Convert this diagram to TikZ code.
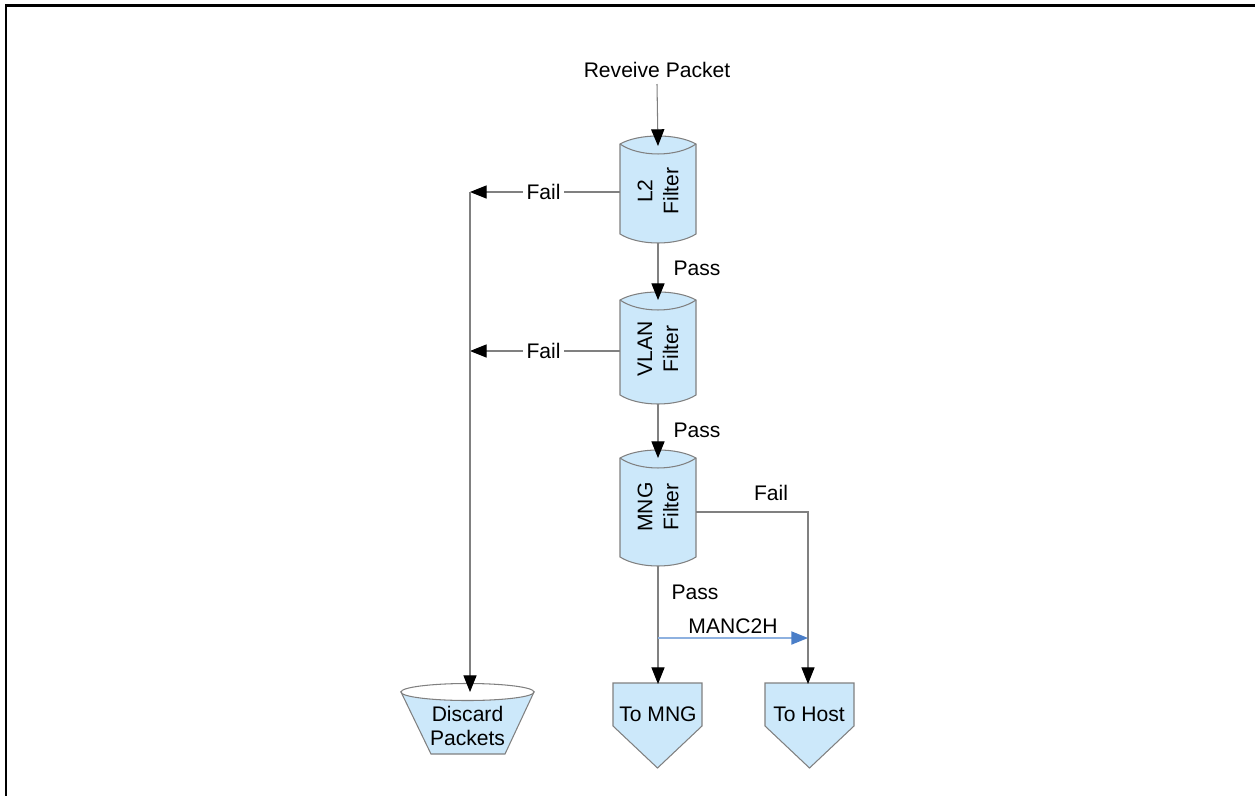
\documentclass[tikz,border=0pt]{standalone}
\usepackage{fontspec}
\setmainfont{Liberation Sans}
\usetikzlibrary{arrows.meta}
\definecolor{fillblue}{HTML}{CCE8FA}
\definecolor{lgray}{HTML}{808080}
\definecolor{tipblue}{HTML}{4A7EC8}
\definecolor{lineblue}{HTML}{8EB1E0}
\tikzset{
 conn/.style={draw=lgray, line width=0.6pt, -{Triangle[length=9.5pt,width=7.5pt,color=black]}},
 plain/.style={draw=lgray, line width=0.6pt},
 lbl/.style={font=\fontsize{12}{14.8}\selectfont, inner sep=1pt},
 lblw/.style={lbl, fill=white, inner sep=2pt},
 shapefill/.style={fill=fillblue, draw=lgray, line width=0.6pt},
 blueconn/.style={draw=lineblue, line width=0.8pt, -{Triangle[length=9.5pt,width=7.5pt,color=tipblue]}},
}
\newcommand\mycyl[3]{%
 \path[shapefill] (#1-38,#2) .. controls (#1-19,#2-10.7) and (#1+19,#2-10.7) .. (#1+38,#2) -- (#1+38,#3) .. controls (#1+19,#3+12) and (#1-19,#3+12) .. (#1-38,#3) -- cycle;
 \path[draw=lgray, line width=0.6pt] (#1-38,#2) .. controls (#1-19,#2+13.3) and (#1+19,#2+13.3) .. (#1+38,#2);
}
\newcommand\mypent[4]{% x1 x2 ytop name
 \path[shapefill] (#1,#3) -- (#2,#3) -- (#2,#3+43) -- ({(#1+#2)/2},#3+85) -- (#1,#3+43) -- cycle;
}
\begin{document}
\begin{tikzpicture}[x=0.02cm,y=-0.02cm]
\useasboundingbox (0,0) rectangle (1255,795);
\draw[line width=1.2pt] (6,810) -- (6,5.5) -- (1270,5.5);

% shapes
\mycyl{658}{144}{234}
\mycyl{658}{300}{395}
\mycyl{658}{458}{557}
\mypent{613}{702}{683}{tomng}
\mypent{765}{854}{683}{tohost}
\path[shapefill] (401,692) -- (431,754) -- (505,754) -- (534,692) -- cycle;
\path[fill=white, draw=lgray, line width=0.6pt] (467.5,692) ellipse [x radius=66.5, y radius=8.5];

% text nodes
\node[lbl] (rp) at (657,70) {Reveive Packet};
\node[lbl, rotate=90, align=center] (l2) at (658,191) {L2\\Filter};
\node[lbl, rotate=90, align=center] (vlan) at (658,349) {VLAN\\Filter};
\node[lbl, rotate=90, align=center] (mng) at (658,507) {MNG\\Filter};
\node[lbl] (tomngt) at (658,714) {To MNG};
\node[lbl] (tohostt) at (809,714) {To Host};
\node[font=\fontsize{12}{13.2}\selectfont, align=center, inner sep=1pt] (disc) at (467.5,726) {Discard\\Packets};

% connection coordinates
\coordinate (rpstart) at (657,84);
\coordinate (l2top) at (658,146);
\coordinate (l2bot) at (658,243);
\coordinate (l2left) at (620,192);
\coordinate (vlantop) at (658,300);
\coordinate (vlanbot) at (658,404);
\coordinate (vlanleft) at (620,351);
\coordinate (mngtop) at (658,458);
\coordinate (mngbot) at (658,566);
\coordinate (mngright) at (696,512);
\coordinate (failcorner) at (808,512);
\coordinate (tomngtop) at (658,684);
\coordinate (tohosttop) at (808,684);
\coordinate (bus1) at (470,192);
\coordinate (bus2) at (470,351);
\coordinate (disctop) at (470,692);
\coordinate (mancstart) at (658,638);
\coordinate (mancend) at (808,638);

% connectors
\draw[conn] (rpstart) -- (l2top);
\draw[conn] (l2bot) -- (vlantop);
\draw[conn] (vlanbot) -- (mngtop);
\draw[conn] (mngbot) -- (tomngtop);
\draw[conn] (l2left) -- node[lblw, pos=0.51] (f1) {Fail} (bus1);
\draw[conn] (vlanleft) -- node[lblw, pos=0.51] (f2) {Fail} (bus2);
\draw[conn] (bus1) -- (disctop);
\draw[conn] (mngright) -- (failcorner) -- (tohosttop);
\draw[blueconn] (mancstart) -- (mancend);

% labels
\node[lbl] (p1) at (697,268) {Pass};
\node[lbl] (p2) at (697,430) {Pass};
\node[lbl] (p3) at (695,592) {Pass};
\node[lbl] (f3) at (771,493) {Fail};
\node[lbl] (manc) at (733,626) {MANC2H};
\end{tikzpicture}
\end{document}
